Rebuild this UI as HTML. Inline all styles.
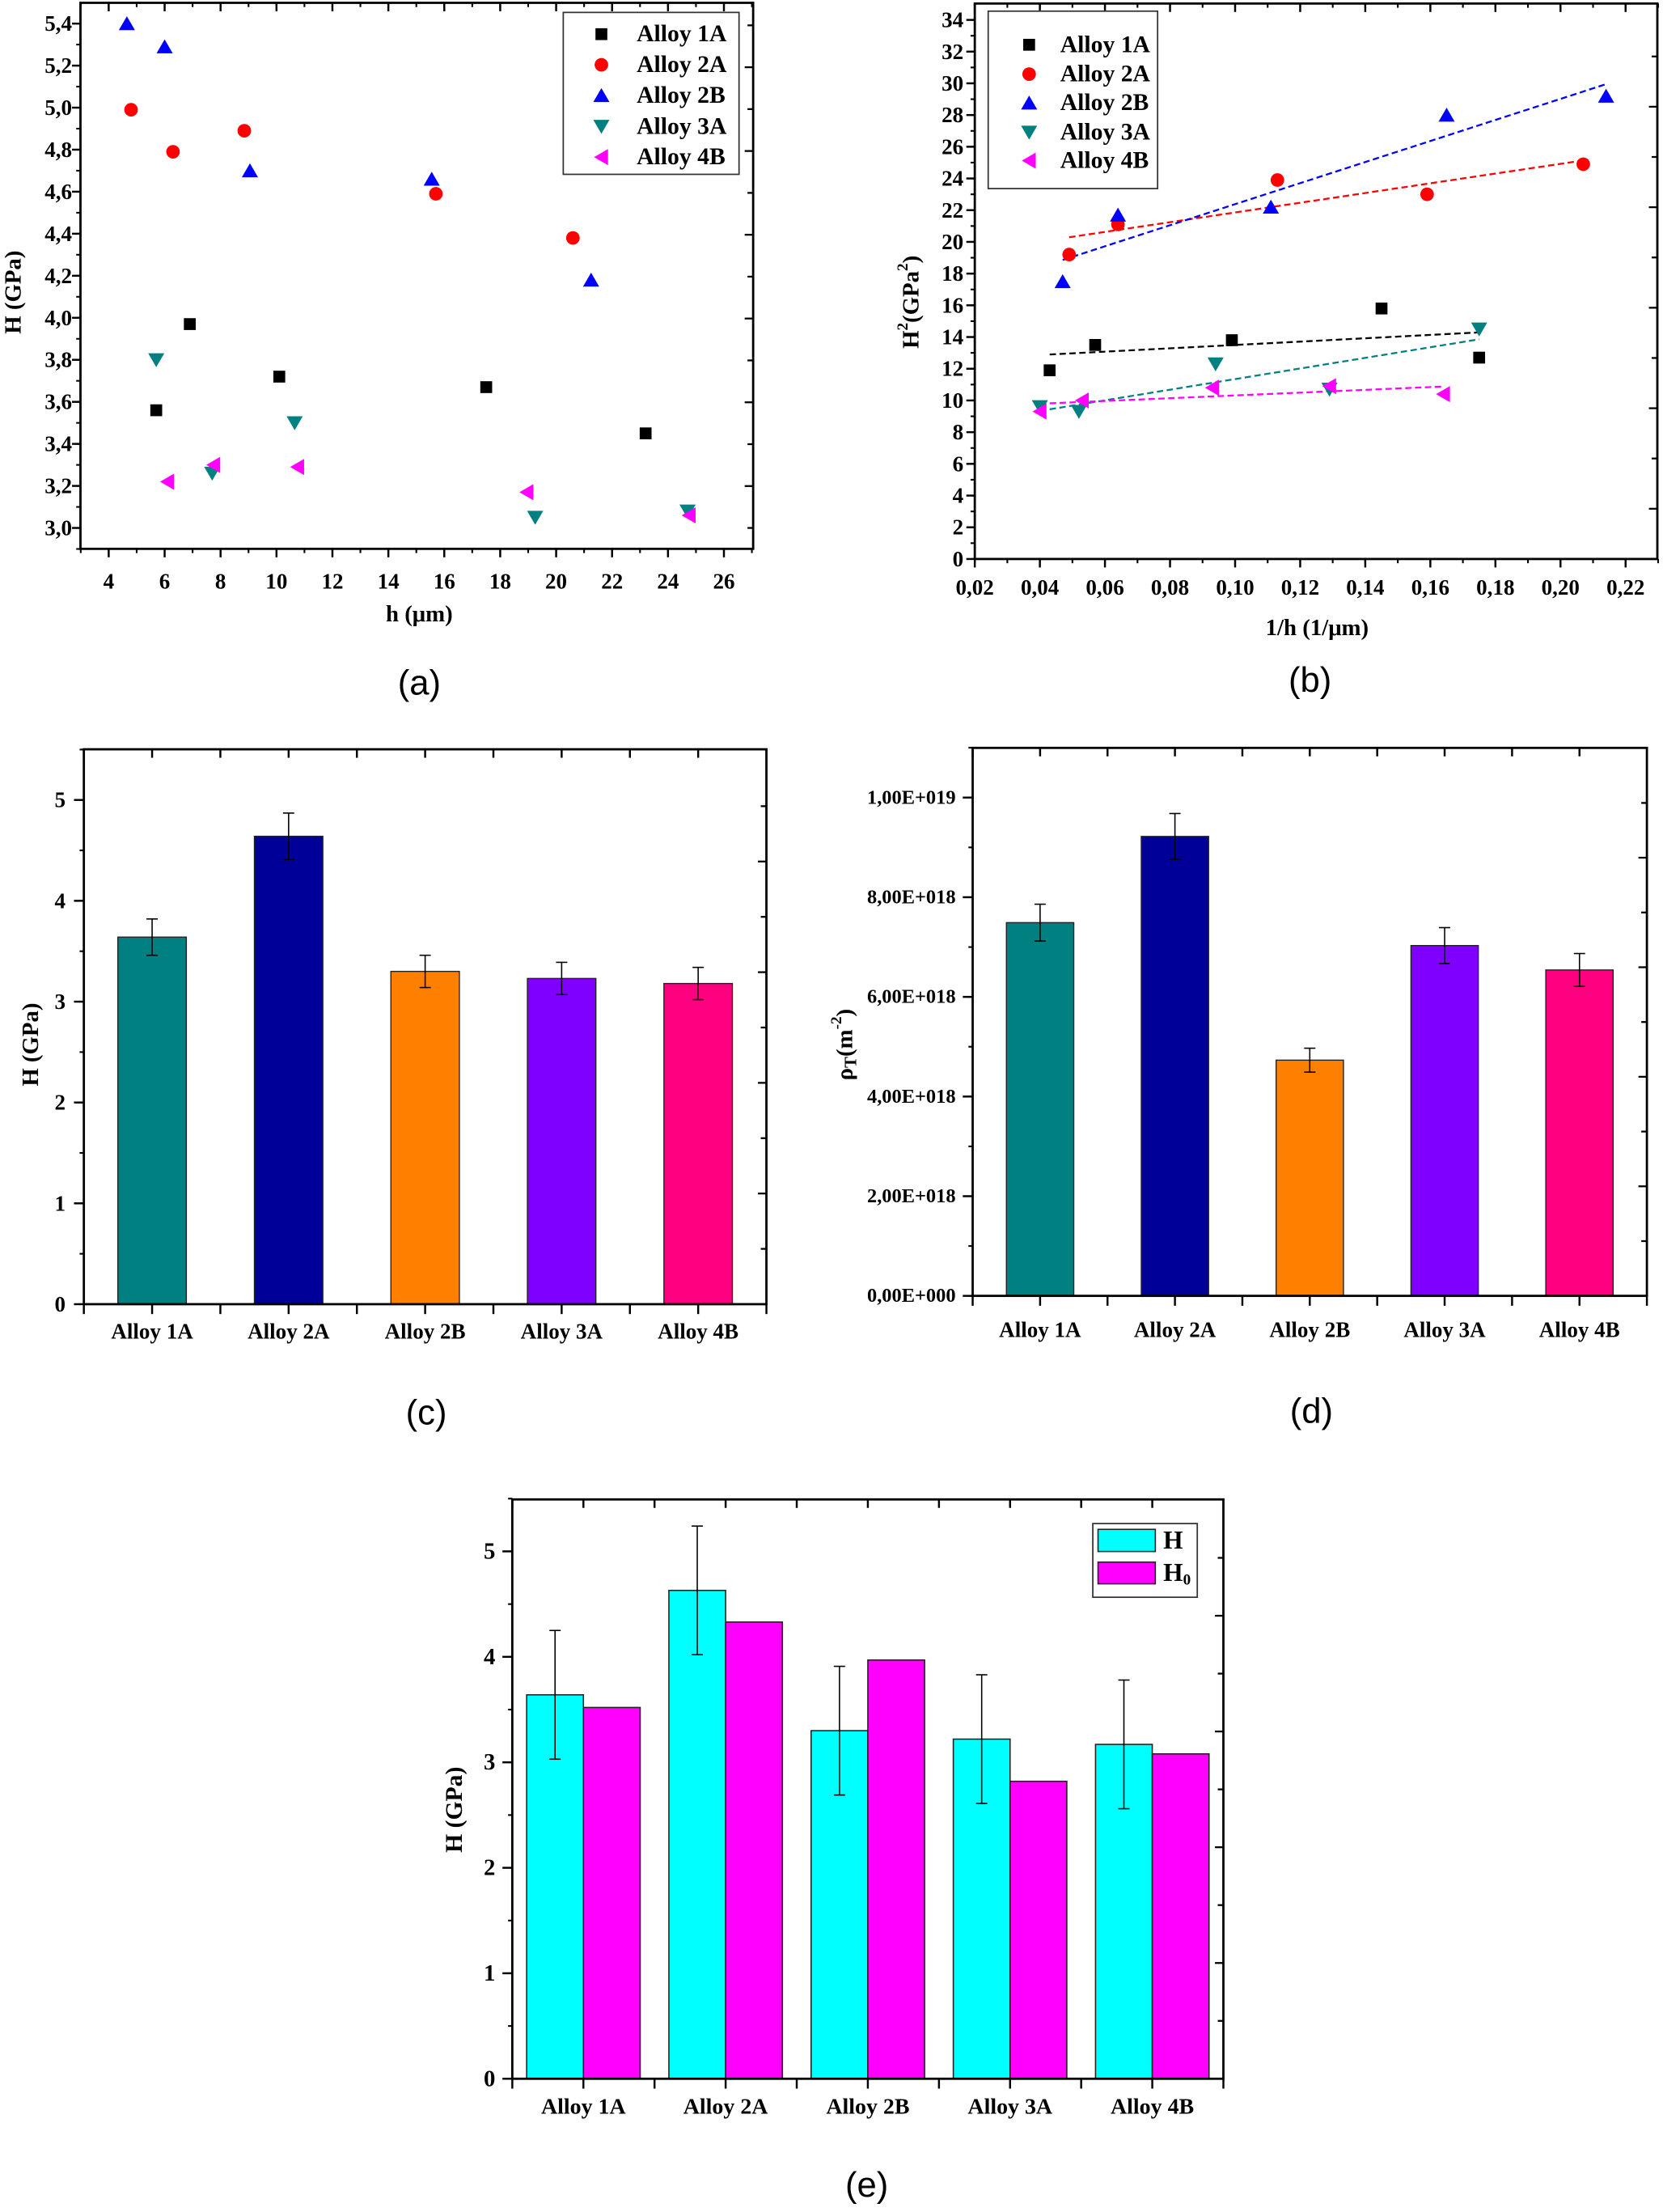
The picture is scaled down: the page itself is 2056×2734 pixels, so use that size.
<!DOCTYPE html>
<html><head><meta charset="utf-8"><title>Hardness charts</title>
<style>
html,body{margin:0;padding:0;background:#fff;}
svg{display:block;}
text{font-family:"Liberation Serif",serif;font-weight:bold;fill:#000;}
.pl{font-family:"Liberation Sans",sans-serif;font-weight:normal;font-size:25px;}
</style></head>
<body>
<svg id="fig" xmlns="http://www.w3.org/2000/svg" width="2056" height="2734" viewBox="0 0 1178 1567" preserveAspectRatio="none"></svg>
<script>
// ---------- data ----------
const alloyNames = ["Alloy 1A","Alloy 2A","Alloy 2B","Alloy 3A","Alloy 4B"];
// panel (a): h (um) vs H (GPa)
const a_h_1A = [5.7,6.9,10.1,17.5,23.2];   const a_H_1A = [3.56,3.97,3.72,3.67,3.45];
const a_h_2A = [4.8,6.3,8.85,15.7,20.6];   const a_H_2A = [4.99,4.79,4.89,4.59,4.38];
const a_h_2B = [4.65,6.0,9.05,15.55,21.25];const a_H_2B = [5.40,5.29,4.70,4.66,4.18];
const a_h_3A = [5.7,7.7,10.65,19.25,24.7]; const a_H_3A = [3.80,3.26,3.50,3.05,3.08];
const a_h_4B = [6.1,7.75,10.75,18.95,24.75]; const a_H_4B = [3.22,3.30,3.29,3.17,3.06];
// panel (b): 1/h vs H^2
const b_x_1A = [0.043,0.057,0.099,0.145,0.175]; const b_y_1A = [11.9,13.5,13.8,15.8,12.7];
const b_x_2A = [0.049,0.064,0.113,0.159,0.207]; const b_y_2A = [19.2,21.1,23.9,23.0,24.9];
const b_x_2B = [0.047,0.064,0.111,0.165,0.214]; const b_y_2B = [17.5,21.7,22.2,28.0,29.2];
const b_x_3A = [0.040,0.052,0.094,0.129,0.175]; const b_y_3A = [9.6,9.3,12.3,10.7,14.5];
const b_x_4B = [0.040,0.053,0.093,0.129,0.164]; const b_y_4B = [9.3,10.0,10.8,10.9,10.4];
// panel (c): H (GPa)
const c_H = [3.64,4.64,3.30,3.23,3.18];
const c_err = [0.18,0.23,0.16,0.16,0.16];
// panel (d): rho_T (m^-2)
const d_rho = [7.49e18,9.22e18,4.73e18,7.03e18,6.54e18];
const d_err = [0.37e18,0.46e18,0.24e18,0.36e18,0.33e18];
// panel (e): H and H0
const e_H = [3.64,4.63,3.30,3.22,3.17];
const e_Herr = [0.61,0.61,0.61,0.61,0.61];
const e_H0 = [3.52,4.33,3.97,2.82,3.08];
// tick labels
const a_xticks = [4,6,8,10,12,14,16,18,20,22,24,26];
const a_yticks = [3.0,3.2,3.4,3.6,3.8,4.0,4.2,4.4,4.6,4.8,5.0,5.2,5.4];
const b_xticks = [0.02,0.04,0.06,0.08,0.10,0.12,0.14,0.16,0.18,0.20,0.22];
const b_yticks = [0,2,4,6,8,10,12,14,16,18,20,22,24,26,28,30,32,34];
const c_yticks = [0,1,2,3,4,5];
const d_yticks = [0,2e18,4e18,6e18,8e18,1e19];
const d_ytickLabels = ["0,00E+000","2,00E+018","4,00E+018","6,00E+018","8,00E+018","1,00E+019"];
const e_yticks = [0,1,2,3,4,5];

// ---------- helpers ----------
const NS="http://www.w3.org/2000/svg";
const svg=document.getElementById('fig');
const TK=15.5, CAT=15.5, TITLE=16.5, LEG=17;
function mk(tag,attrs,parent){const e=document.createElementNS(NS,tag);for(const k in attrs)e.setAttribute(k,attrs[k]);(parent||svg).appendChild(e);return e;}
function nm(e,n){


return e;}
function lin(d0,d1,p0,p1){return v=>p0+(v-d0)*(p1-p0)/(d1-d0);}
function txt(x,y,s,size,parent,anchor,extra){const t=mk('text',Object.assign({x:x,y:y,'font-size':size,'text-anchor':anchor||'middle','dominant-baseline':'central'},extra||{}),parent);t.textContent=s;return t;}
function fmtC(v,d){return v.toFixed(d).replace('.',',');}
function frame(g,L,R,T,B){nm(mk('rect',{x:L,y:T,width:R-L,height:B-T,fill:'none',stroke:'#000','stroke-width':1.6},g),'plot-frame');}
function yTicks(g,L,R,ys,vals,minorStep,lo,hi,len){
  for(let v=lo;v<=hi+1e-9;v+=minorStep){const y=ys(v);mk('line',{x1:L-3,x2:L,y1:y,y2:y,stroke:'#000','stroke-width':1.2},g);}
  vals.forEach(v=>{const y=ys(v);nm(mk('line',{x1:L-(len||6),x2:L,y1:y,y2:y,stroke:'#000','stroke-width':1.4},g),'y-tick');});
}
function xTicks(g,T,B,xs,vals,minorStep,lo,hi){
  for(let v=lo;v<=hi+1e-9;v+=minorStep){const x=xs(v);mk('line',{x1:x,x2:x,y1:B,y2:B+3,stroke:'#000','stroke-width':1.2},g);mk('line',{x1:x,x2:x,y1:T,y2:T+3,stroke:'#000','stroke-width':1.2},g);}
  vals.forEach(v=>{const x=xs(v);nm(mk('line',{x1:x,x2:x,y1:B,y2:B+6,stroke:'#000','stroke-width':1.4},g),'x-tick');mk('line',{x1:x,x2:x,y1:T,y2:T+6,stroke:'#000','stroke-width':1.4},g);});
}
function rightTicks(g,R,T,B,step,startFromB){
  let i=0;for(let y=B-startFromB;y>T+2;y-=step){mk('line',{x1:R-(i%2?6:4),x2:R,y1:y,y2:y,stroke:'#000','stroke-width':1.3},g);i++;}
}
function marker(g,type,x,y,color){
  let e;const s=5.2;
  if(type==='square')e=mk('rect',{x:x-4.2,y:y-4.2,width:8.4,height:8.4,fill:color},g);
  else if(type==='circle')e=mk('circle',{cx:x,cy:y,r:4.8,fill:color},g);
  else if(type==='up')e=mk('polygon',{points:`${x},${y-s} ${x-s*1.1},${y+s*0.9} ${x+s*1.1},${y+s*0.9}`,fill:color},g);
  else if(type==='down')e=mk('polygon',{points:`${x},${y+s} ${x-s*1.1},${y-s*0.9} ${x+s*1.1},${y-s*0.9}`,fill:color},g);
  else e=mk('polygon',{points:`${x-s},${y} ${x+s*0.9},${y-s*1.1} ${x+s*0.9},${y+s*1.1}`,fill:color},g);
  return e;
}
const seriesStyle=[['square','#000000'],['circle','#ff0000'],['up','#0000ff'],['down','#008080'],['left','#ff00ff']];

function legend(g,bx,by,bw,bh,ys,mx,tx){
  const lg=nm(mk('g',{},g),'legend');
  mk('rect',{x:bx,y:by,width:bw,height:bh,fill:'#fff',stroke:'#333','stroke-width':1},lg);
  alloyNames.forEach((n,i)=>{
    const it=nm(mk('g',{},lg),'legend-entry-'+n.toLowerCase().replace(' ','-'));
    marker(it,seriesStyle[i][0],mx,ys[i],seriesStyle[i][1]);
    txt(tx,ys[i],n,LEG,it,'start');
  });
}

// ---------- Panel (a) ----------
(function(){
  const g=nm(mk('g',{}),'panel-a-scatter');
  const L=57,R=533.5,T=2,B=388.8;
  const xs=lin(4,26,77,512.8), ys=lin(3.0,5.4,374,16.7);
  frame(g,L,R,T,B);
  yTicks(g,L,R,ys,a_yticks,0.1,2.9,5.4);
  rightTicks(g,R,T,B,29.67,14.8);
  xTicks(g,T,B,xs,a_xticks,1,3,27);
  a_yticks.forEach(v=>nm(txt(L-6,ys(v),fmtC(v,1),TK,g,'end'),'y-tick-label'));
  a_xticks.forEach(v=>nm(txt(xs(v),B+23,String(v),TK,g),'x-tick-label'));
  nm(txt(297,435,'h (\u03bcm)',TITLE,g),'x-axis-title');
  nm(txt(9.5,207,'H (GPa)',TITLE,g,'middle',{transform:'rotate(-90 9.5 207)'}),'y-axis-title');
  const X=[a_h_1A,a_h_2A,a_h_2B,a_h_3A,a_h_4B],Y=[a_H_1A,a_H_2A,a_H_2B,a_H_3A,a_H_4B];
  X.forEach((xa,i)=>{const sg=nm(mk('g',{},g),'series-'+alloyNames[i].toLowerCase().replace(' ','-'));
    xa.forEach((xv,j)=>{const m=marker(sg,seriesStyle[i][0],xs(xv),ys(Y[i][j]),seriesStyle[i][1]);

});});
  legend(g,399,8.8,124.5,114.7,[24.2,45.9,67.6,89.6,111.3],426,451);
  nm(txt(297,484,'(a)',25,g,'middle',{class:'pl'}),'panel-label-a');
})();

// ---------- Panel (b) ----------
(function(){
  const g=nm(mk('g',{}),'panel-b-scatter-fit');
  const L=690.5,R=1174,T=2.5,B=396;
  const xs=lin(0.02,0.22,690.5,1151.5), ys=lin(0,34,396,14.1);
  frame(g,L,R,T,B);
  yTicks(g,L,R,ys,b_yticks,1,0,34);
  rightTicks(g,R,T,B,35.6,0);
  xTicks(g,T,B,xs,b_xticks,0.01,0.02,0.23);
  b_yticks.forEach(v=>nm(txt(L-8,ys(v),String(v),TK,g,'end'),'y-tick-label'));
  b_xticks.forEach(v=>nm(txt(xs(v),B+20,fmtC(v,2),TK,g),'x-tick-label'));
  nm(txt(933,444.7,'1/h (1/\u03bcm)',TITLE,g),'x-axis-title');
  const yt=nm(mk('text',{x:0,y:0,'font-size':TITLE,'text-anchor':'middle','dominant-baseline':'central',transform:'translate(645.5 214) rotate(-90)'},g),'y-axis-title');
  yt.innerHTML='H<tspan font-size="11" dy="-6">2</tspan><tspan dy="6">(GPa</tspan><tspan font-size="11" dy="-6">2</tspan><tspan dy="6">)</tspan>';
  const X=[b_x_1A,b_x_2A,b_x_2B,b_x_3A,b_x_4B],Y=[b_y_1A,b_y_2A,b_y_2B,b_y_3A,b_y_4B];
  X.forEach((xa,i)=>{
    const n=xa.length;const mx=xa.reduce((a,b)=>a+b)/n,my=Y[i].reduce((a,b)=>a+b)/n;
    let sxy=0,sxx=0;xa.forEach((xv,j)=>{sxy+=(xv-mx)*(Y[i][j]-my);sxx+=(xv-mx)*(xv-mx);});
    const k=sxy/sxx,b0=my-k*mx;const x0=Math.min(...xa),x1=Math.max(...xa);
    const fl=mk('line',{x1:xs(x0),y1:ys(k*x0+b0),x2:xs(x1),y2:ys(k*x1+b0),stroke:seriesStyle[i][1],'stroke-width':1.3,'stroke-dasharray':'4.5,2.5'},g);
    
    
  });
  X.forEach((xa,i)=>{const sg=nm(mk('g',{},g),'series-'+alloyNames[i].toLowerCase().replace(' ','-'));
    xa.forEach((xv,j)=>{const m=marker(sg,seriesStyle[i][0],xs(xv),ys(Y[i][j]),seriesStyle[i][1]);

});});
  legend(g,700,7.9,120,125.7,[31.7,52.5,72.9,93.7,113.8],729,751);
  nm(txt(928,482,'(b)',25,g,'middle',{class:'pl'}),'panel-label-b');
})();

// ---------- bar panel helper ----------
const barColors=['#008080','#000099','#ff8000','#8000ff','#ff0080'];
function catTicks(g,T,B,centers,half){
  centers.forEach((c,i)=>{[c-half,c].forEach(x=>{mk('line',{x1:x,x2:x,y1:B,y2:B+7,stroke:'#000','stroke-width':1.4},g);mk('line',{x1:x,x2:x,y1:T,y2:T+6,stroke:'#000','stroke-width':1.4},g);});});
  const x=centers[centers.length-1]+half;mk('line',{x1:x,x2:x,y1:B,y2:B+7,stroke:'#000','stroke-width':1.4},g);
}
function errBar(g,x,yTop,yBot,cap){const e=mk('g',{},g);


mk('line',{x1:x,x2:x,y1:yTop,y2:yBot,stroke:'#000','stroke-width':0.9},e);
mk('line',{x1:x-cap,x2:x+cap,y1:yTop,y2:yTop,stroke:'#000','stroke-width':0.9},e);
mk('line',{x1:x-cap,x2:x+cap,y1:yBot,y2:yBot,stroke:'#000','stroke-width':0.9},e);}

// ---------- Panel (c) ----------
(function(){
  const g=nm(mk('g',{}),'panel-c-bar');
  const L=59.4,R=542.9,T=530.8,B=923.9;
  const ys=lin(0,5,923.9,566.7);
  const step=(R-L)/5, xs=i=>L+step*(i+0.5);
  const centers=alloyNames.map((n,i)=>xs(i));
  alloyNames.forEach((n,i)=>{const bw=48.5;const r=mk('rect',{x:xs(i)-bw/2,y:ys(c_H[i]),width:bw,height:ys(0)-ys(c_H[i]),fill:barColors[i],stroke:'#222','stroke-width':0.8},g);


    errBar(g,xs(i),ys(c_H[i]+c_err[i]),ys(c_H[i]-c_err[i]),4);});
  frame(g,L,R,T,B);
  yTicks(g,L,R,ys,c_yticks,0.5,0,5.5,7);
  rightTicks(g,R,T,B,39.2,39.2);
  catTicks(g,T,B,centers,step/2);
  c_yticks.forEach(v=>nm(txt(L-13,ys(v),String(v),TK,g,'end'),'y-tick-label'));
  alloyNames.forEach((n,i)=>nm(txt(xs(i),943,n,CAT,g),'x-tick-label'));
  nm(txt(21.8,740,'H (GPa)',TITLE,g,'middle',{transform:'rotate(-90 21.8 740)'}),'y-axis-title');
  nm(txt(302,1001,'(c)',25,g,'middle',{class:'pl'}),'panel-label-c');
})();

// ---------- Panel (d) ----------
(function(){
  const g=nm(mk('g',{}),'panel-d-bar');
  const L=689,R=1166.6,T=529.8,B=918;
  const ys=lin(0,1e19,918,565);
  const step=(R-L)/5, xs=i=>L+step*(i+0.5);
  const centers=alloyNames.map((n,i)=>xs(i));
  alloyNames.forEach((n,i)=>{const bw=47.7;const r=mk('rect',{x:xs(i)-bw/2,y:ys(d_rho[i]),width:bw,height:ys(0)-ys(d_rho[i]),fill:barColors[i],stroke:'#222','stroke-width':0.8},g);


    errBar(g,xs(i),ys(d_rho[i]+d_err[i]),ys(d_rho[i]-d_err[i]),4);});
  frame(g,L,R,T,B);
  yTicks(g,L,R,ys,d_yticks,1e18,0,1.1e19,7);
  rightTicks(g,R,T,B,38.8,38.8);
  catTicks(g,T,B,centers,step/2);
  d_yticks.forEach((v,i)=>nm(txt(677,ys(v),d_ytickLabels[i],14,g,'end'),'y-tick-label'));
  alloyNames.forEach((n,i)=>nm(txt(xs(i),942,n,CAT,g),'x-tick-label'));
  const yt=nm(mk('text',{x:0,y:0,'font-size':TITLE,'text-anchor':'middle','dominant-baseline':'central',transform:'translate(598.5 740) rotate(-90)'},g),'y-axis-title');
  yt.innerHTML='\u03c1<tspan font-size="12" dy="4">T</tspan><tspan dy="-4">(m</tspan><tspan font-size="11" dy="-6">-2</tspan><tspan dy="6">)</tspan>';
  nm(txt(929,1000,'(d)',25,g,'middle',{class:'pl'}),'panel-label-d');
})();

// ---------- Panel (e) ----------
(function(){
  const g=nm(mk('g',{}),'panel-e-grouped-bar');
  const L=362.9,R=866.6,T=1062.2,B=1472.6;
  const ys=lin(0,5,1472.6,1099);
  const step=(R-L)/5, xs=i=>L+step*(i+0.5);
  const centers=alloyNames.map((n,i)=>xs(i));
  const bw=40.2;
  alloyNames.forEach((n,i)=>{
    const r1=mk('rect',{x:xs(i)-bw,y:ys(e_H[i]),width:bw,height:ys(0)-ys(e_H[i]),fill:'#00ffff',stroke:'#222','stroke-width':0.9},g);


    const r2=mk('rect',{x:xs(i),y:ys(e_H0[i]),width:bw,height:ys(0)-ys(e_H0[i]),fill:'#ff00ff',stroke:'#222','stroke-width':0.9},g);


  });
  alloyNames.forEach((n,i)=>errBar(g,xs(i)-bw/2,ys(e_H[i]+e_Herr[i]),ys(e_H[i]-e_Herr[i]),4));
  frame(g,L,R,T,B);
  yTicks(g,L,R,ys,e_yticks,0.5,0,5.5,7);
  rightTicks(g,R,T,B,41,41);
  catTicks(g,T,B,centers,step/2);
  e_yticks.forEach(v=>nm(txt(L-12,ys(v),String(v),16.5,g,'end'),'y-tick-label'));
  alloyNames.forEach((n,i)=>nm(txt(xs(i),1492.4,n,16,g),'x-tick-label'));
  nm(txt(322,1282,'H (GPa)',17,g,'middle',{transform:'rotate(-90 322 1282)'}),'y-axis-title');
  const lg=nm(mk('g',{},g),'legend');
  mk('rect',{x:774.1,y:1079.3,width:74,height:52.2,fill:'#fff',stroke:'#333','stroke-width':1},lg);
  const i1=nm(mk('g',{},lg),'legend-entry-h');
  mk('rect',{x:777.8,y:1083.4,width:40.6,height:15.7,fill:'#00ffff',stroke:'#222','stroke-width':0.9},i1);
  txt(824,1091,'H',18,i1,'start');
  const i2=nm(mk('g',{},lg),'legend-entry-h0');
  mk('rect',{x:777.8,y:1106.6,width:40.6,height:15.4,fill:'#ff00ff',stroke:'#222','stroke-width':0.9},i2);
  const t=txt(824,1114,'',18,i2,'start');t.innerHTML='H<tspan font-size="11" dy="5">0</tspan>';
  nm(txt(614,1548,'(e)',25,g,'middle',{class:'pl'}),'panel-label-e');
})();
</script>
</body></html>
